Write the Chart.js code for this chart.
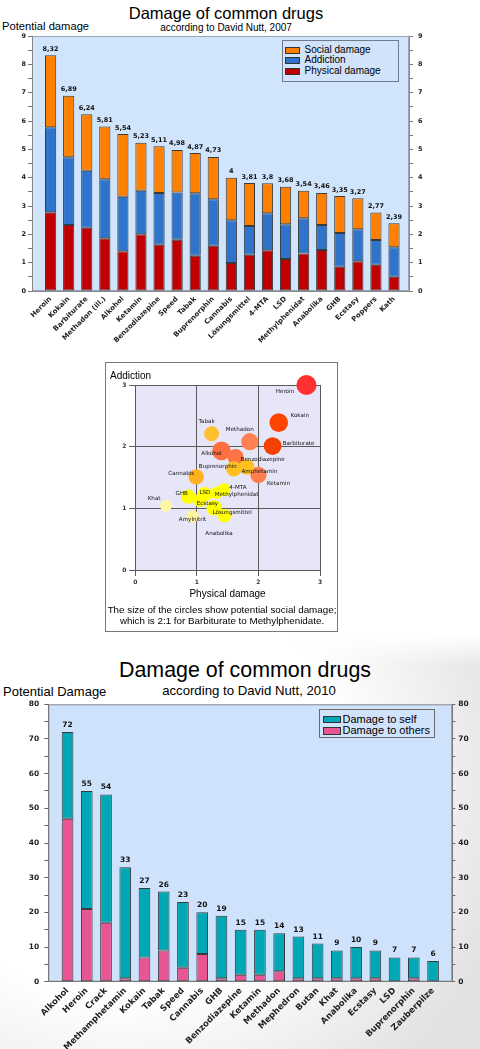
<!DOCTYPE html>
<html><head><meta charset="utf-8">
<script src="https://cdn.jsdelivr.net/npm/chart.js@4"></script>
<style>
html,body{margin:0;padding:0;}
body{width:480px;height:1049px;position:relative;overflow:hidden;background:#fff;font-family:'Liberation Sans',Arial,sans-serif;color:#000;}
.t{position:absolute;white-space:nowrap;line-height:1;}
.c{text-align:center;}
canvas{position:absolute;}
.sw{position:absolute;box-sizing:border-box;border:1px solid #333;}
.box{position:absolute;box-sizing:border-box;}
</style></head><body>
<div class="box" style="left:0;top:636px;width:480px;height:413px;background:linear-gradient(to bottom, #ffffff 0px, rgba(255,255,255,0) 30px), radial-gradient(ellipse 85% 95% at 25% 35%, #ffffff 55%, #e2e2e2 100%);"></div>

<div class="t c" style="left:26px;width:400px;top:5px;font-size:16.5px;">Damage of common drugs</div>
<div class="t c" style="left:26px;width:400px;top:22.5px;font-size:10px;">according to David Nutt, 2007</div>
<div class="t" style="left:2px;top:21px;font-size:11.2px;">Potential damage</div>
<canvas id="c1" width="480" height="350" style="left:0;top:0;"></canvas>
<div class="box" style="left:282px;top:40px;width:117px;height:42px;border:1px solid #6f7a8a;background:#d0e3fb;"></div>
<div class="sw" style="left:285px;top:46.7px;width:15px;height:7px;background:#ff8000;"></div>
<div class="sw" style="left:285px;top:57.2px;width:15px;height:7px;background:#2f74cc;"></div>
<div class="sw" style="left:285px;top:67.8px;width:15px;height:7px;background:#c00000;"></div>
<div class="t" style="left:304.5px;top:44.7px;font-size:10px;">Social damage</div>
<div class="t" style="left:304.5px;top:55.2px;font-size:10px;">Addiction</div>
<div class="t" style="left:304.5px;top:65.7px;font-size:10px;">Physical damage</div>

<div class="box" style="left:105px;top:362px;width:233px;height:270px;border:1px solid #777;background:#fff;"></div>
<canvas id="c2" width="233" height="270" style="left:105px;top:362px;"></canvas>
<div class="t" style="left:110px;top:370.5px;font-size:10px;">Addiction</div>
<div class="t c" style="left:127.5px;width:200px;top:588.8px;font-size:10px;">Physical damage</div>
<div class="t c" style="left:22px;width:400px;top:605px;font-size:9.8px;">The size of the circles show potential social damage;</div>
<div class="t c" style="left:22px;width:400px;top:616px;font-size:9.8px;">which is 2:1 for Barbiturate to Methylphenidate.</div>

<div class="t c" style="left:45px;width:400px;top:660px;font-size:21.4px;">Damage of common drugs</div>
<div class="t c" style="left:49px;width:400px;top:684.3px;font-size:13.2px;">according to David Nutt, 2010</div>
<div class="t" style="left:3px;top:685px;font-size:13px;">Potential Damage</div>
<canvas id="c3" width="480" height="399" style="left:0;top:650px;"></canvas>
<div class="box" style="left:319px;top:709px;width:116px;height:29px;border:1px solid #6a6a6a;background:#d0e3fb;"></div>
<div class="sw" style="left:323px;top:715.5px;width:18px;height:7.5px;background:#00a8b5;"></div>
<div class="sw" style="left:323px;top:727.2px;width:18px;height:7.5px;background:#e85593;"></div>
<div class="t" style="left:342.5px;top:714px;font-size:11px;">Damage to self</div>
<div class="t" style="left:342.5px;top:725.3px;font-size:11px;">Damage to others</div>

<script>
// ---------- Data: Nutt 2007 ----------
const drugs2007 = ['Heroin','Kokain','Barbiturate','Methadon (ill.)','Alkohol','Ketamin','Benzodiazepine','Speed','Tabak','Buprenorphin','Cannabis','Lösungsmittel','4-MTA','LSD','Methylphenidat','Anabolika','GHB','Ecstasy','Poppers','Kath'];
const physicalDamage = [2.78, 2.33, 2.23, 1.86, 1.40, 2.00, 1.63, 1.81, 1.24, 1.60, 0.99, 1.28, 1.44, 1.13, 1.32, 1.45, 0.86, 1.05, 0.93, 0.50];
const addiction = [3.00, 2.39, 2.01, 2.08, 1.93, 1.54, 1.83, 1.67, 2.21, 1.64, 1.51, 1.01, 1.30, 1.23, 1.25, 0.88, 1.19, 1.13, 0.87, 1.04];
const socialDamage = [2.54, 2.17, 2.00, 1.87, 2.21, 1.69, 1.65, 1.50, 1.42, 1.49, 1.50, 1.52, 1.06, 1.32, 0.97, 1.13, 1.30, 1.09, 0.97, 0.85];

// bubble chart names (same drugs, same order)
const bubbleNames = ['Heroin','Kokain','Barbiturate','Methadon','Alkohol','Ketamin','Benzodiazepine','Amphetamin','Tabak','Buprenorphin','Cannabis','Lösungsmittel','4-MTA','LSD','Methylphenidat','Anabolika','GHB','Ecstasy','Amylnitrit','Khat'];

// ---------- Data: Nutt 2010 ----------
const drugs2010 = ['Alkohol','Heroin','Crack','Methamphetamin','Kokain','Tabak','Speed','Cannabis','GHB','Benzodiazepine','Ketamin','Methadon','Mephedron','Butan','Khat','Anabolika','Ecstasy','LSD','Buprenorphin','Zauberpilze'];
const damageToOthers = [47, 21, 17, 1, 7, 9, 4, 8, 1, 2, 2, 3, 1, 1, 1, 1, 1, 0, 1, 0];
const damageToSelf   = [25, 34, 37, 32, 20, 17, 19, 12, 18, 13, 13, 11, 12, 10, 8, 9, 8, 7, 6, 6];

// ---------- styles ----------
const bubbleColors = ['#ff3030','#ff4400','#f44000','#ff8050','#ff7040','#ff7f50','#ff7444','#ffc020','#ffc030','#ffc020','#ffb020','#ffff00','#ffff00','#ffff00','#ffff00','#ffff00','#ffff00','#ffff00','#fff6a0','#fff6a0'];
const bubbleLabelOffsets = [[-21.5,7],[21,-7.5],[26,-3],[-10,-12],[-10,3],[20,9],[27,2],[12.7,5],[-5,-12],[-16,-2.5],[-15,-3],[18,4.6],[14,-2],[0,-2],[20,1.5],[-5.5,17.6],[-6.5,-3],[7.5,3.7],[0,3],[-12,-7.5]];

const F = (size, weight) => ({family: "'DejaVu Sans', sans-serif", size, weight: weight || 'bold'});

function areaPlugin(bg, border) {
  return { id: 'area', beforeDraw(chart) {
    const {ctx, chartArea: a} = chart;
    ctx.save();
    ctx.fillStyle = bg;
    ctx.fillRect(a.left, a.top, a.right - a.left, a.bottom - a.top);
    if (border) { ctx.strokeStyle = border; ctx.lineWidth = 1; ctx.strokeRect(a.left + 0.5, a.top + 0.5, a.right - a.left - 1, a.bottom - a.top - 1); }
    ctx.restore();
  }};
}
function totalsPlugin(fmt, font, offset) {
  return { id: 'totals', afterDatasetsDraw(chart) {
    const ctx = chart.ctx, ds = chart.data.datasets;
    const meta = chart.getDatasetMeta(ds.length - 1);
    ctx.save();
    ctx.font = font; ctx.fillStyle = '#111'; ctx.textAlign = 'center'; ctx.textBaseline = 'alphabetic';
    meta.data.forEach((el, i) => {
      const sum = ds.reduce((s, d) => s + d.data[i].y, 0);
      ctx.fillText(fmt(sum), el.x, el.y - offset);
    });
    ctx.restore();
  }};
}
const catTick = (labels) => (v) => (Number.isInteger(v) && v >= 0 && v < labels.length) ? labels[v] : '';
const pts = (arr) => arr.map((v, i) => ({x: i, y: v}));

// ---------- Chart 1 ----------
const barBase = {borderColor: '#3a3a3a', borderWidth: 1, borderSkipped: false, categoryPercentage: 1, barPercentage: 0.62};
new Chart(document.getElementById('c1'), {
  type: 'bar',
  data: { datasets: [
    Object.assign({label: 'Physical damage', data: pts(physicalDamage), backgroundColor: '#c00000'}, barBase),
    Object.assign({label: 'Addiction', data: pts(addiction), backgroundColor: '#2f74cc'}, barBase),
    Object.assign({label: 'Social damage', data: pts(socialDamage), backgroundColor: '#ff8000'}, barBase)
  ]},
  options: {
    responsive: false, animation: false, events: [],
    layout: {padding: {top: 36, left: 0, right: 0, bottom: 0}},
    plugins: {legend: {display: false}, tooltip: {enabled: false}},
    scales: {
      x: {type: 'linear', stacked: true, min: -1.03, max: 19.83, offset: false,
          ticks: {stepSize: 1, includeBounds: false, autoSkip: false, minRotation: 45, maxRotation: 45, padding: 4, font: F(7), color: '#222', callback: catTick(drugs2007)},
          grid: {display: false, drawTicks: false}, border: {display: true, color: '#888'},
          afterFit: s => { s.height = 59; }},
      y: {position: 'left', stacked: true, min: 0, max: 9,
          ticks: {stepSize: 0.5, autoSkip: false, padding: 2, font: F(6.5), color: '#222', callback: v => Number.isInteger(v) ? v : ''},
          grid: {drawOnChartArea: false, tickLength: 4, tickColor: '#777'}, border: {color: '#888'},
          afterFit: s => { s.width = 32; }},
      y2: {position: 'right', min: 0, max: 9,
          ticks: {stepSize: 0.5, autoSkip: false, padding: 5, font: F(6.5), color: '#222', callback: v => Number.isInteger(v) ? v : ''},
          grid: {drawOnChartArea: false, tickLength: 4, tickColor: '#777'}, border: {color: '#888'},
          afterFit: s => { s.width = 71; }}
    }
  },
  plugins: [areaPlugin('#d0e4fc', '#9aa6b6'), totalsPlugin(v => String(Math.round(v * 100) / 100).replace('.', ','), "bold 6.5px 'DejaVu Sans'", 4.5)]
});

// ---------- Chart 2 (bubbles) ----------
const bubbleLabels = { id: 'bubbleLabels', afterDatasetsDraw(chart) {
  const ctx = chart.ctx, meta = chart.getDatasetMeta(0);
  ctx.save();
  ctx.font = "5.6px 'DejaVu Sans'"; ctx.fillStyle = '#111'; ctx.textAlign = 'center'; ctx.textBaseline = 'middle';
  meta.data.forEach((el, i) => {
    const o = bubbleLabelOffsets[i];
    ctx.fillText(bubbleNames[i], el.x + o[0], el.y + o[1]);
  });
  ctx.restore();
}};
new Chart(document.getElementById('c2'), {
  type: 'bubble',
  data: { datasets: [{
    data: physicalDamage.map((v, i) => ({x: v, y: addiction[i], r: 6.3 * Math.sqrt(socialDamage[i])})),
    backgroundColor: bubbleColors, borderWidth: 0, clip: false
  }]},
  options: {
    responsive: false, animation: false, events: [],
    layout: {padding: {top: 23, right: 18, left: 0, bottom: 0}},
    plugins: {legend: {display: false}, tooltip: {enabled: false}},
    scales: {
      x: {type: 'linear', min: 0, max: 3,
          ticks: {stepSize: 1, padding: 3, font: F(6), color: '#333'},
          grid: {color: '#5a5a5a', lineWidth: 1, tickLength: 6, tickColor: '#5a5a5a'}, border: {color: '#5a5a5a'},
          afterFit: s => { s.height = 62; }},
      y: {type: 'linear', min: 0, max: 3,
          ticks: {stepSize: 1, padding: 3, font: F(6), color: '#333'},
          grid: {color: '#5a5a5a', lineWidth: 1, tickLength: 6, tickColor: '#5a5a5a'}, border: {color: '#5a5a5a'},
          afterFit: s => { s.width = 30.3; }}
    }
  },
  plugins: [areaPlugin('#e6e6f8', null), bubbleLabels]
});

// ---------- Chart 3 ----------
const barBase3 = {borderColor: '#3a3a3a', borderWidth: 1, borderSkipped: false, categoryPercentage: 1, barPercentage: 0.607};
new Chart(document.getElementById('c3'), {
  type: 'bar',
  data: { datasets: [
    Object.assign({label: 'Damage to others', data: pts(damageToOthers), backgroundColor: '#e85593'}, barBase3),
    Object.assign({label: 'Damage to self', data: pts(damageToSelf), backgroundColor: '#00a8b5'}, barBase3)
  ]},
  options: {
    responsive: false, animation: false, events: [],
    layout: {padding: {top: 54.3, left: 0, right: 0, bottom: 0}},
    plugins: {legend: {display: false}, tooltip: {enabled: false}},
    scales: {
      x: {type: 'linear', stacked: true, min: -1, max: 20, offset: false,
          ticks: {stepSize: 1, includeBounds: false, autoSkip: false, minRotation: 45, maxRotation: 45, padding: 4, font: F(8.5), color: '#222', callback: catTick(drugs2010)},
          grid: {display: false, drawTicks: false}, border: {display: true, color: '#777'},
          afterFit: s => { s.height = 67.3; }},
      y: {position: 'left', stacked: true, min: 0, max: 80,
          ticks: {stepSize: 5, autoSkip: false, padding: 5, font: F(7.5), color: '#222', callback: v => v % 10 === 0 ? v : ''},
          grid: {drawOnChartArea: false, tickLength: 4, tickColor: '#666'}, border: {color: '#777'},
          afterFit: s => { s.width = 48.3; }},
      y2: {position: 'right', min: 0, max: 80,
          ticks: {stepSize: 5, autoSkip: false, padding: 3, font: F(7.5), color: '#222', callback: v => v % 10 === 0 ? v : ''},
          grid: {drawOnChartArea: false, tickLength: 3, tickColor: '#666'}, border: {color: '#777'},
          afterFit: s => { s.width = 27.7; }}
    }
  },
  plugins: [areaPlugin('#cfe2fb', '#8c8c8c'), totalsPlugin(v => String(Math.round(v)), "bold 7.5px 'DejaVu Sans'", 5)]
});
</script>
</body></html>
